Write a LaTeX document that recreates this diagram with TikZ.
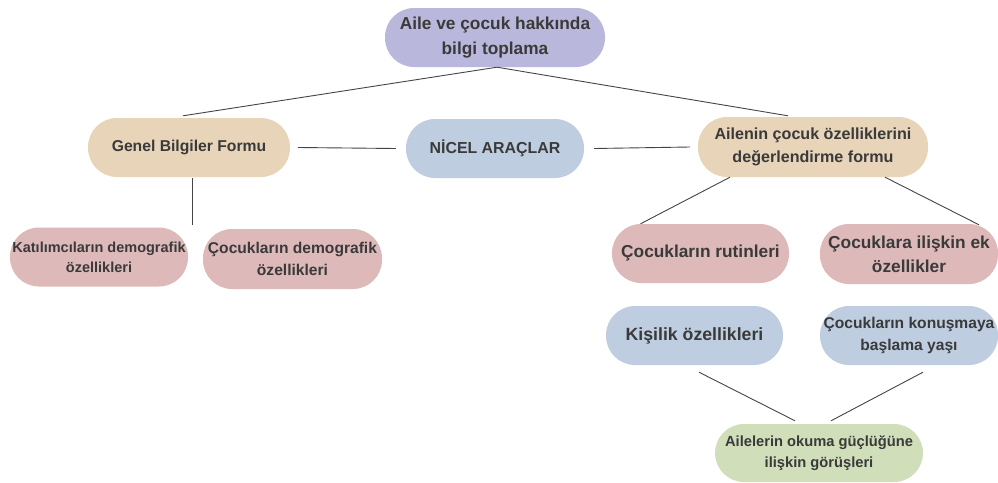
\documentclass[tikz,border=0pt]{standalone}
\usepackage{fontspec}
\setmainfont{Liberation Sans}
\definecolor{txt}{HTML}{3A3A3A}
\definecolor{lineC}{HTML}{454545}
\definecolor{lav}{HTML}{B9B7DB}
\definecolor{tan}{HTML}{E7D4B9}
\definecolor{blu}{HTML}{BECEE0}
\definecolor{pnk}{HTML}{DDB9B9}
\definecolor{grn}{HTML}{D1DEBA}
\tikzset{
  pill/.style={rounded corners=29pt, inner sep=0pt, align=center,
    text=txt, font=\bfseries},
  fs/.style={font=\fontsize{#1}{\dimexpr #1pt*14/10\relax}\selectfont\bfseries},
  link/.style={draw=lineC, line width=0.9pt},
}
\begin{document}
\begin{tikzpicture}[x=1pt,y=-1pt]
\useasboundingbox (0,0) rectangle (998,482);
\fill[white] (0,0) rectangle (998,482);

% top level
\node[pill, fill=lav, minimum width=220pt, minimum height=59pt, fs=17.3] (top) at (495,37.5)
  {Aile ve çocuk hakkında\\bilgi toplama};

% second row
\node[pill, fill=tan, minimum width=202pt, minimum height=59pt, fs=15.7] (gen) at (189,147.5)
  {Genel Bilgiler Formu};
\node[pill, fill=blu, minimum width=178pt, minimum height=59pt, fs=15.9] (nic) at (495,148.5)
  {NİCEL ARAÇLAR};
\node[pill, fill=tan, minimum width=230pt, minimum height=60pt, fs=16.1] (ail) at (813,147)
  {Ailenin çocuk özelliklerini\\değerlendirme formu};

% left branch
\node[pill, fill=pnk, minimum width=178pt, minimum height=59pt, fs=14.5] (kat) at (99,257)
  {Katılımcıların demografik\\özellikleri};
\node[pill, fill=pnk, minimum width=179pt, minimum height=60pt, fs=15.6] (cdem) at (292.5,259)
  {Çocukların demografik\\özellikleri};

% right branch
\node[pill, fill=pnk, minimum width=177pt, minimum height=59pt, fs=17.3] (rut) at (700.5,253.5)
  {Çocukların rutinleri};
\node[pill, fill=pnk, minimum width=178pt, minimum height=60pt, fs=17.3] (ek) at (909,254)
  {Çocuklara ilişkin ek\\özellikler};
\node[pill, fill=blu, minimum width=177pt, minimum height=59pt, fs=17.7] (kis) at (694.5,335.5)
  {Kişilik özellikleri};
\node[pill, fill=blu, minimum width=178pt, minimum height=59pt, fs=15.6] (kon) at (909,335.5)
  {Çocukların konuşmaya\\başlama yaşı};
\node[pill, fill=grn, minimum width=208pt, minimum height=58pt, fs=14.7] (oku) at (819,453)
  {Ailelerin okuma güçlüğüne\\ilişkin görüşleri};

% connectors
\coordinate (genfoot) at (192,225);
\draw[link] ([xshift=2pt]top.south) -- ([shift={(-6pt,2pt)}]gen.north);
\draw[link] ([xshift=2pt]top.south) -- ([shift={(-25pt,1pt)}]ail.north);
\draw[link] ([xshift=8pt]gen.east) -- ([xshift=-10pt]nic.west);
\draw[link] ([xshift=10pt]nic.east) -- ([xshift=-8pt]ail.west);
\draw[link] ([shift={(3pt,-1pt)}]gen.south) -- (genfoot);
\draw[link] ([xshift=-83pt]ail.south) -- ([xshift=-60pt]rut.north);
\draw[link] ([xshift=72pt]ail.south) -- ([shift={(70pt,-1pt)}]ek.north);
\draw[link] ([shift={(4.5pt,-7pt)}]kis.south) -- ([shift={(-24pt,3pt)}]oku.north);
\draw[link] ([shift={(14pt,-7pt)}]kon.south) -- ([shift={(12pt,3pt)}]oku.north);
\end{tikzpicture}
\end{document}
